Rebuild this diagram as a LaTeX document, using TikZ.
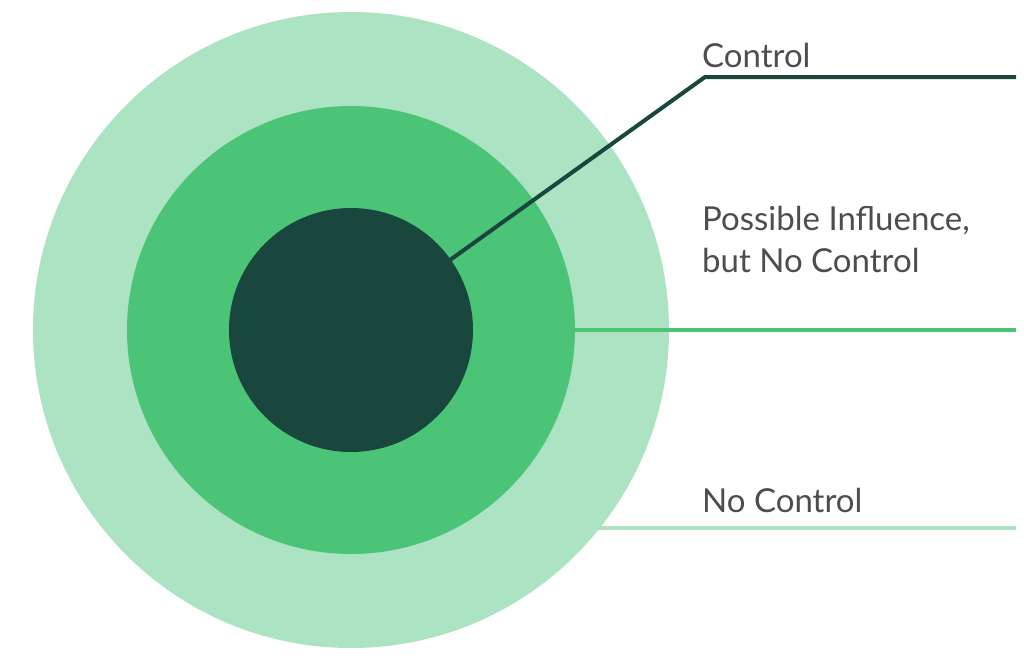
\documentclass[tikz,border=0pt]{standalone}
\usepackage{fontspec}
\setmainfont{Lato}
\definecolor{ringlight}{HTML}{ABE3C3}
\definecolor{ringmid}{HTML}{4BC477}
\definecolor{ringdark}{HTML}{19463D}
\definecolor{labeltext}{HTML}{4D4D4F}
\tikzset{
  label/.style={anchor=base west, text=labeltext, font=\fontsize{33}{42}\selectfont, inner sep=0pt, align=left},
  leader/.style={line width=4pt}
}
\begin{document}
\begin{tikzpicture}[x=1pt,y=-1pt]
  \useasboundingbox (0,0) rectangle (1024,659);
  \fill[ringlight] (351,330) circle[radius=318];
  \fill[ringmid] (351,330) circle[radius=224];
  \fill[ringdark] (351,330) circle[radius=122];

  \coordinate (cin) at (450,260);
  \coordinate (cbend) at (705,77);
  \coordinate (cend) at (1016,77);
  \coordinate (pin) at (575,330);
  \coordinate (pend) at (1016,330);
  \coordinate (nin) at (598,528);
  \coordinate (nend) at (1016,528);

  \draw[leader, ringdark] (cin) -- (cbend) -- (cend);
  \draw[leader, ringmid] (pin) -- (pend);
  \draw[leader, ringlight] (nin) -- (nend);

  \node[label] (control) at (702,67) {Control};
  \node[label] (possible) at (702,272) {Possible Influence,\\but No Control};
  \node[label] (nocontrol) at (702,512) {No Control};
\end{tikzpicture}
\end{document}
